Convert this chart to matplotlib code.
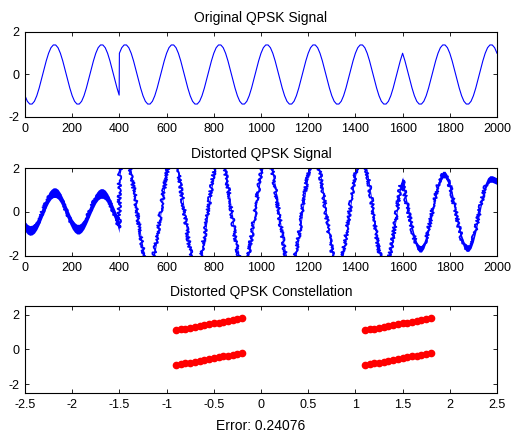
import numpy as np
import matplotlib.pyplot as plt

plt.rcParams['font.family'] = ['Liberation Sans', 'DejaVu Sans']
plt.rcParams['font.size'] = 9
plt.rcParams['axes.unicode_minus'] = False

# sample positions (every 10 samples, plus the last sample before the 400 jump)
sample_idx = list(range(0, 400, 10)) + [399] + list(range(400, 2001, 10))

orig_signal = [
    -1.00, -1.26, -1.39, -1.39, -1.26, -1.00, -0.64, -0.22, 0.22, 0.64, 1.00, 1.26, 1.39, 1.39, 1.26, 1.00, 0.64, 0.22, -0.22, -0.64,
    -1.00, -1.26, -1.39, -1.39, -1.26, -1.00, -0.64, -0.22, 0.22, 0.64, 1.00, 1.26, 1.39, 1.39, 1.26, 1.00, 0.64, 0.22, -0.22, -0.64,
    -0.97,
    1.00, 1.26, 1.39, 1.39, 1.26, 1.00, 0.64, 0.22, -0.22, -0.64, -1.00, -1.26, -1.39, -1.39, -1.26, -1.00, -0.64, -0.22, 0.22, 0.64,
    1.00, 1.26, 1.39, 1.39, 1.26, 1.00, 0.64, 0.22, -0.22, -0.64, -1.00, -1.26, -1.39, -1.39, -1.26, -1.00, -0.64, -0.22, 0.22, 0.64,
    1.00, 1.26, 1.39, 1.39, 1.26, 1.00, 0.64, 0.22, -0.22, -0.64, -1.00, -1.26, -1.39, -1.39, -1.26, -1.00, -0.64, -0.22, 0.22, 0.64,
    1.00, 1.26, 1.39, 1.39, 1.26, 1.00, 0.64, 0.22, -0.22, -0.64, -1.00, -1.26, -1.39, -1.39, -1.26, -1.00, -0.64, -0.22, 0.22, 0.64,
    1.00, 1.26, 1.39, 1.39, 1.26, 1.00, 0.64, 0.22, -0.22, -0.64, -1.00, -1.26, -1.39, -1.39, -1.26, -1.00, -0.64, -0.22, 0.22, 0.64,
    1.00, 1.26, 1.39, 1.39, 1.26, 1.00, 0.64, 0.22, -0.22, -0.64, -1.00, -1.26, -1.39, -1.39, -1.26, -1.00, -0.64, -0.22, 0.22, 0.64,
    1.00, 0.64, 0.22, -0.22, -0.64, -1.00, -1.26, -1.39, -1.39, -1.26, -1.00, -0.64, -0.22, 0.22, 0.64, 1.00, 1.26, 1.39, 1.39, 1.26,
    1.00, 0.64, 0.22, -0.22, -0.64, -1.00, -1.26, -1.39, -1.39, -1.26, -1.00, -0.64, -0.22, 0.22, 0.64, 1.00, 1.26, 1.39, 1.39, 1.26,
    1.00,
]

# centre of the noisy distorted trace
dist_signal = [
    -0.65, -0.78, -0.84, -0.82, -0.74, -0.58, -0.36, -0.10, 0.16, 0.42, 0.64, 0.80, 0.88, 0.88, 0.81, 0.65, 0.43, 0.18, -0.08, -0.33,
    -0.55, -0.70, -0.78, -0.78, -0.70, -0.55, -0.33, -0.08, 0.17, 0.41, 0.62, 0.77, 0.84, 0.84, 0.77, 0.62, 0.40, 0.15, -0.10, -0.36,
    -0.72,
    1.75, 2.21, 2.43, 2.43, 2.21, 1.75, 1.12, 0.39, -0.39, -1.12, -1.75, -2.21, -2.43, -2.43, -2.21, -1.75, -1.12, -0.39, 0.39, 1.12,
    1.75, 2.21, 2.43, 2.43, 2.21, 1.75, 1.12, 0.39, -0.39, -1.12, -1.75, -2.21, -2.43, -2.43, -2.21, -1.75, -1.12, -0.39, 0.39, 1.12,
    1.75, 2.21, 2.43, 2.43, 2.21, 1.75, 1.12, 0.39, -0.39, -1.12, -1.75, -2.21, -2.43, -2.43, -2.21, -1.75, -1.12, -0.39, 0.39, 1.12,
    1.75, 2.21, 2.43, 2.43, 2.21, 1.75, 1.12, 0.39, -0.39, -1.12, -1.75, -2.21, -2.43, -2.43, -2.21, -1.75, -1.12, -0.39, 0.39, 1.12,
    1.75, 2.21, 2.43, 2.43, 2.21, 1.75, 1.12, 0.39, -0.39, -1.12, -1.75, -2.21, -2.43, -2.43, -2.21, -1.75, -1.12, -0.39, 0.39, 1.12,
    1.75, 2.21, 2.43, 2.43, 2.21, 1.75, 1.12, 0.39, -0.39, -1.12, -1.75, -2.21, -2.43, -2.43, -2.21, -1.75, -1.12, -0.39, 0.39, 1.12,
    1.45, 0.77, 0.26, -0.26, -0.77, -1.20, -1.51, -1.67, -1.67, -1.51, -1.20, -0.77, -0.26, 0.26, 0.77, 1.20, 1.51, 1.70, 1.70, 1.51,
    1.20, 0.77, 0.26, -0.26, -0.77, -1.20, -1.50, -1.64, -1.64, -1.50, -1.20, -0.77, -0.26, 0.26, 0.77, 1.15, 1.40, 1.50, 1.50, 1.45,
    1.40,
]

# half-width of the noise band per section (start sample, half-width)
noise_start = [0, 400, 1600]
noise_halfwidth = [0.22, 0.14, 0.15]

# constellation clusters (I, Q)
const_i = [
    -0.90, -0.85, -0.80, -0.75, -0.70, -0.65, -0.60, -0.55, -0.50, -0.45, -0.40, -0.35, -0.30, -0.25, -0.20,
    -0.90, -0.85, -0.80, -0.75, -0.70, -0.65, -0.60, -0.55, -0.50, -0.45, -0.40, -0.35, -0.30, -0.25, -0.20,
    1.10, 1.15, 1.20, 1.25, 1.30, 1.35, 1.40, 1.45, 1.50, 1.55, 1.60, 1.65, 1.70, 1.75, 1.80,
    1.10, 1.15, 1.20, 1.25, 1.30, 1.35, 1.40, 1.45, 1.50, 1.55, 1.60, 1.65, 1.70, 1.75, 1.80,
]
const_q = [
    1.10, 1.15, 1.20, 1.25, 1.30, 1.35, 1.40, 1.45, 1.50, 1.55, 1.60, 1.65, 1.70, 1.75, 1.80,
    -0.90, -0.85, -0.80, -0.75, -0.70, -0.65, -0.60, -0.55, -0.50, -0.45, -0.40, -0.35, -0.30, -0.25, -0.20,
    1.10, 1.15, 1.20, 1.25, 1.30, 1.35, 1.40, 1.45, 1.50, 1.55, 1.60, 1.65, 1.70, 1.75, 1.80,
    -0.90, -0.85, -0.80, -0.75, -0.70, -0.65, -0.60, -0.55, -0.50, -0.45, -0.40, -0.35, -0.30, -0.25, -0.20,
]
const_xticks = [-2.5, -2, -1.5, -1, -0.5, 0, 0.5, 1, 1.5, 2, 2.5]
const_xticklabels = ["-2.5", "-2", "-1.5", "-1", "-0.5", "0", "0.5", "1", "1.5", "2", "2.5"]
error_value = "0.24076"


def style_axes(ax):
    ax.tick_params(direction='in', top=True, right=True, length=3, width=0.6, pad=4, colors='black')
    for spine in ax.spines.values():
        spine.set_linewidth(0.8)


fig = plt.figure(figsize=(5.11, 4.33), dpi=100)
ax1 = fig.add_axes([0.0489, 0.7298, 0.9237, 0.1963])
ax2 = fig.add_axes([0.0489, 0.4088, 0.9237, 0.2032])
ax3 = fig.add_axes([0.0489, 0.0924, 0.9237, 0.2009])

ax1.plot(sample_idx, orig_signal, color='blue', lw=0.8)
ax1.set_xlim(0, 2000)
ax1.set_ylim(-2, 2)
ax1.set_yticks([-2, 0, 2])
ax1.set_xticks(range(0, 2001, 200))
ax1.set_title("Original QPSK Signal", fontsize=10, pad=7)
style_axes(ax1)

# noisy trace: band for the noise spread plus a slightly jittered centre line
idx = np.array(sample_idx)
centre = np.array(dist_signal)
sec = np.searchsorted(noise_start, idx, side='right') - 1
hw = np.array(noise_halfwidth)[sec]
ax2.fill_between(idx, centre - hw, centre + hw, color='blue', lw=0)
line_all, = ax2.plot(sample_idx, dist_signal, color='blue', lw=1.3)
line_all.set_sketch_params(scale=1.8, length=2.0, randomness=12.0)
ax2.set_xlim(0, 2000)
ax2.set_ylim(-2, 2)
ax2.set_yticks([-2, 0, 2])
ax2.set_xticks(range(0, 2001, 200))
ax2.set_title("Distorted QPSK Signal", fontsize=10, pad=7)
style_axes(ax2)

ax3.plot(const_i, const_q, 'o', color='red', ms=4.5, mec='red')
ax3.set_xlim(-2.5, 2.5)
ax3.set_ylim(-2.5, 2.5)
ax3.set_yticks([-2, 0, 2])
ax3.set_xticks(const_xticks)
ax3.set_xticklabels(const_xticklabels)
ax3.set_title("Distorted QPSK Constellation", fontsize=10, pad=7)
ax3.set_xlabel(f"Error: {error_value}", fontsize=10, labelpad=6)
style_axes(ax3)

fig.savefig("out.png", dpi=100)
